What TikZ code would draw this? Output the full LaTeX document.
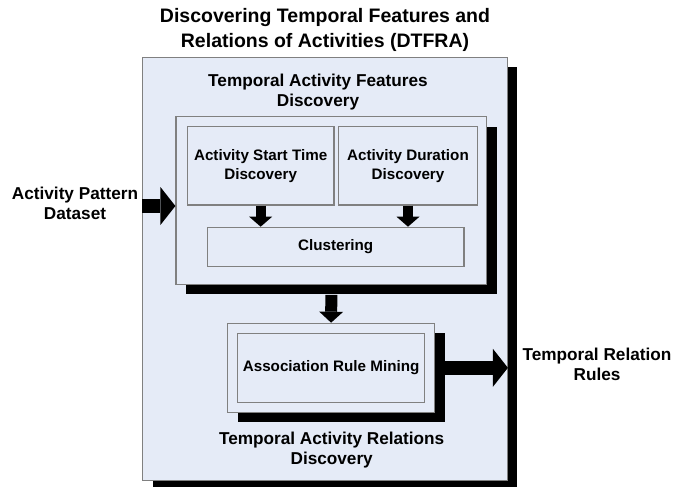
\documentclass[tikz,border=0pt]{standalone}
\usepackage{fontspec}
\setmainfont{Liberation Sans}
\usetikzlibrary{arrows.meta,shadows}
\definecolor{fondo}{RGB}{229,235,247}
\definecolor{borde}{RGB}{128,128,128}

\begin{document}
\begin{tikzpicture}[x=1pt,y=-1pt,
    caja/.style={draw=borde, fill=fondo, line width=1.2pt, inner sep=0pt},
    sombra/.style={drop shadow={shadow xshift=10pt, shadow yshift=-10pt, fill=black, opacity=1}},
    rotulo/.style={font=\fontsize{15.2}{18.5}\selectfont\bfseries, align=center},
    titulo/.style={font=\fontsize{17.2}{20.5}\selectfont\bfseries, align=center},
    flecha/.style={line width=10pt, -{Triangle[length=10pt, width=23pt, line width=0pt]}},
    flechota/.style={line width=14pt, -{Triangle[length=15pt, width=38pt, line width=0pt]}}]
    % Marco
    \fill[white] (0,0) rectangle (688,487);
    \useasboundingbox (0,0) rectangle (688,487);
    % Titulo
    \node[font=\fontsize{19.5}{25}\selectfont\bfseries, align=center] (title) at (325,29.5)
        {Discovering Temporal Features and\\Relations of Activities (DTFRA)};
    % Caja exterior
    \node[caja, sombra, minimum width=364.6pt, minimum height=423.4pt] (dtfra) at (325,269) {};
    \node[titulo] (tafd) at (318,92) {Temporal Activity Features\\Discovery};
    \node[titulo] (tard) at (331.7,450) {Temporal Activity Relations\\Discovery};
    % Descubrimiento de rasgos
    \node[caja, sombra, minimum width=310.7pt, minimum height=167.6pt] (feat) at (331.35,200.5) {};
    \node[caja, rotulo, minimum width=146.7pt, minimum height=78.3pt] (start) at (260.65,165.85)
        {Activity Start Time\\Discovery};
    \node[caja, rotulo, minimum width=138.6pt, minimum height=78.3pt] (dur) at (408,165.85)
        {Activity Duration\\Discovery};
    \node[caja, rotulo, minimum width=256.7pt, minimum height=39.4pt] (clust) at (335.65,247) {Clustering};
    % Reglas de asociacion
    \node[caja, sombra, minimum width=206.8pt, minimum height=89pt] (armout) at (331.1,367.8) {};
    \node[caja, rotulo, minimum width=186.8pt, minimum height=69.4pt] (arm) at (331.1,368)
        {Association Rule Mining};
    % Entrada y salida
    \node[titulo] (apd) at (75,203.5) {Activity Pattern\\Dataset};
    \node[titulo] (trr) at (597,364.5) {Temporal Relation\\Rules};
    % Flechas
    \draw[flecha] (start.south) -- (start.south |- clust.north);
    \draw[flecha] (dur.south) -- (dur.south |- clust.north);
    \draw[line width=12pt, -{Triangle[length=11pt, width=24pt, line width=0pt]}]
        ([yshift=-10pt]feat.south) -- (armout.north);
    \draw[flechota] ([yshift=-5.5pt]dtfra.west |- feat.west) -- ([yshift=-5.5pt]feat.west);
    \draw[flechota] ([xshift=10pt]armout.east) -- (armout.east -| dtfra.east);
\end{tikzpicture}
\end{document}
